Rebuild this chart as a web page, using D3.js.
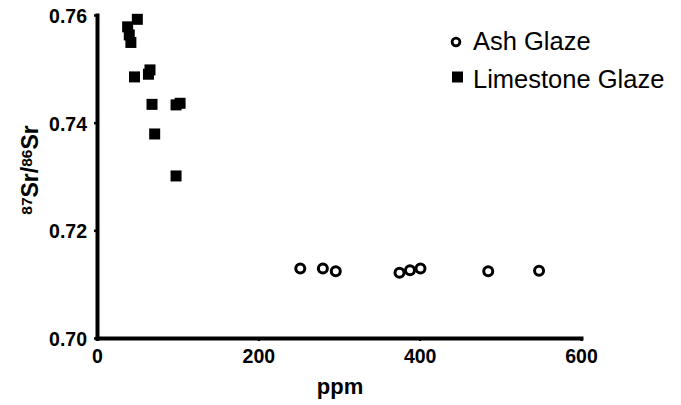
<!DOCTYPE html>
<html>
<head>
<meta charset="utf-8">
<script src="https://cdn.jsdelivr.net/npm/d3@7"></script>
<style>
  body { margin: 0; background: #fff; }
  text { font-family: "Liberation Sans", Arial, sans-serif; }
</style>
</head>
<body>
<script>
// Ash glaze samples (ppm, 87Sr/86Sr)
var ash_ppm   = [252, 280, 296, 375, 388, 401, 485, 548];
var ash_ratio = [0.7129, 0.7129, 0.7124, 0.7121, 0.7126, 0.7129, 0.7124, 0.7125];

// Limestone glaze samples
var lime_ppm   = [50, 38, 40, 42, 46.5, 65.7, 63.8, 68.2, 98, 103, 71.5, 98];
var lime_ratio = [0.7592, 0.7578, 0.7563, 0.7549, 0.7485, 0.7498, 0.7490, 0.7434, 0.7433, 0.7436, 0.7379, 0.7301];

var x_ticks = [0, 200, 400, 600];
var y_ticks = [0.70, 0.72, 0.74, 0.76];
var legend_labels = ["Ash Glaze", "Limestone Glaze"];

var width = 681, height = 405;

var svg = d3.select("body").append("svg")
    .attr("width", width)
    .attr("height", height);

var x = d3.scaleLinear().domain([0, 600]).range([97, 581]);
var y = d3.scaleLinear().domain([0.70, 0.76]).range([338, 15]);

// axes
var xAxis = svg.append("g")
    .attr("transform", "translate(0," + y(0.70) + ")")
    .call(d3.axisBottom(x).tickValues(x_ticks).tickSize(3).tickSizeOuter(0).tickPadding(8));

var yAxis = svg.append("g")
    .attr("transform", "translate(" + x(0) + ",0)")
    .call(d3.axisLeft(y).tickValues(y_ticks).tickFormat(d3.format(".2f")).tickSize(3).tickSizeOuter(0).tickPadding(7));

[xAxis, yAxis].forEach(function(a) {
  a.select(".domain").attr("stroke", "#000").attr("stroke-width", 4).attr("stroke-linecap", "square");
  a.selectAll(".tick line").attr("stroke", "#000").attr("stroke-width", 2.5);
  a.selectAll(".tick text")
      .attr("fill", "#000")
      .style("font-size", "19.5px")
      .style("font-weight", "bold")
      .style("font-family", "'Liberation Sans', Arial, sans-serif");
});
xAxis.selectAll(".tick text").attr("dy", "0.71em");
yAxis.selectAll(".tick text").attr("dy", "0.38em");

// axis titles
svg.append("text")
    .attr("x", 340)
    .attr("y", 394)
    .attr("text-anchor", "middle")
    .style("font-size", "22px")
    .style("font-weight", "bold")
    .text("ppm");

var ylab = svg.append("text")
    .attr("transform", "translate(38,170) rotate(-90)")
    .attr("text-anchor", "middle")
    .style("font-size", "23px")
    .style("font-weight", "bold");
ylab.append("tspan").attr("baseline-shift", "40%").style("font-size", "15.5px").text("87");
ylab.append("tspan").text("Sr/");
ylab.append("tspan").attr("baseline-shift", "40%").style("font-size", "15.5px").text("86");
ylab.append("tspan").text("Sr");

// points
var ash = ash_ppm.map(function(d, i) { return {ppm: d, r: ash_ratio[i]}; });
var lime = lime_ppm.map(function(d, i) { return {ppm: d, r: lime_ratio[i]}; });

svg.selectAll("circle.ash")
    .data(ash)
  .enter().append("circle")
    .attr("class", "ash")
    .attr("cx", function(d) { return x(d.ppm); })
    .attr("cy", function(d) { return y(d.r); })
    .attr("r", 4.5)
    .attr("fill", "#fff")
    .attr("stroke", "#000")
    .attr("stroke-width", 3);

var sq = 11;
svg.selectAll("rect.lime")
    .data(lime)
  .enter().append("rect")
    .attr("class", "lime")
    .attr("x", function(d) { return x(d.ppm) - sq / 2; })
    .attr("y", function(d) { return y(d.r) - sq / 2; })
    .attr("width", sq)
    .attr("height", sq)
    .attr("fill", "#000");

// legend
var legend = svg.append("g");
legend.append("circle")
    .attr("cx", 456).attr("cy", 42)
    .attr("r", 3.9)
    .attr("fill", "#fff")
    .attr("stroke", "#000")
    .attr("stroke-width", 2.8);
legend.append("rect")
    .attr("x", 457.5 - sq / 2).attr("y", 77 - sq / 2)
    .attr("width", sq).attr("height", sq)
    .attr("fill", "#000");
legend.selectAll("text")
    .data(legend_labels)
  .enter().append("text")
    .attr("x", 473)
    .attr("y", function(d, i) { return i === 0 ? 50 : 87.7; })
    .style("font-size", "25.5px")
    .attr("fill", "#000")
    .text(function(d) { return d; });
</script>
</body>
</html>
